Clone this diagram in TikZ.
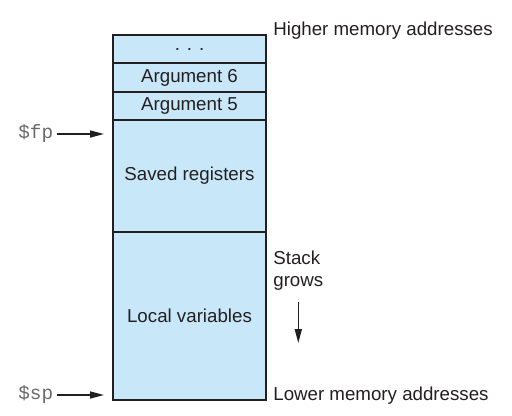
\documentclass[tikz,border=0pt]{standalone}
\usepackage{fontspec}
\setmainfont{Liberation Sans}
\newfontfamily\regfont{Liberation Mono}
\usepackage{tikz}
\usetikzlibrary{calc,arrows.meta}
\definecolor{stackblue}{RGB}{200,232,250}
\definecolor{inkgray}{RGB}{35,31,32}
\definecolor{reggray}{RGB}{105,105,105}
\newcommand{\reg}[1]{\textcolor{reggray}{\regfont\fontsize{11}{13}\selectfont\$#1}}

\begin{document}
\begin{tikzpicture}[x=0.02cm,y=-0.02cm,
    font=\fontsize{10.65}{12.5}\selectfont,
    cell/.style={draw=inkgray,line width=1pt,fill=stackblue,text=inkgray,
      minimum width=3.06cm,inner sep=1pt},
    ptr/.style={draw=inkgray,line width=0.9pt,-{Triangle[length=2.8mm,width=1.4mm]}},
    note/.style={text=inkgray,inner sep=0pt}]
    \useasboundingbox (0,0) rectangle (512,416);

    % the frame, top to bottom
    \node (more) at (189.5,49) [cell,minimum height=0.56cm]{. . .};
    \node (arg6) at (189.5,77.5) [cell,minimum height=0.58cm]{Argument 6};
    \node (arg5) at (189.5,106) [cell,minimum height=0.56cm]{Argument 5};
    \node (saved) at (189.5,176) [cell,minimum height=2.24cm]{Saved registers};
    \node (locals) at (189.5,316) [cell,minimum height=3.36cm]{Local variables};

    \node (high) at (273,35) [note,anchor=base west]{Higher memory addresses};
    \node (low) at (273,400) [note,anchor=base west]{Lower memory addresses};

    % pointers
    \node (fp) at (57,134) [anchor=east,inner sep=2pt]{\reg{fp}};
    \node (sp) at (57,395) [anchor=east,inner sep=2pt]{\reg{sp}};
    \coordinate (fpend) at (104,134);
    \coordinate (spend) at (104,395);
    \draw[ptr] (fp) -- (fpend);
    \draw[ptr] (sp) -- (spend);

    \node (grows) at (273,251) [note,anchor=north west,align=left]{Stack\\grows};
    \coordinate (growend) at ($(grows.south)+(0,52)$);
    \draw[ptr,shorten <=6pt] (grows) -- (growend);
\end{tikzpicture}
\end{document}
